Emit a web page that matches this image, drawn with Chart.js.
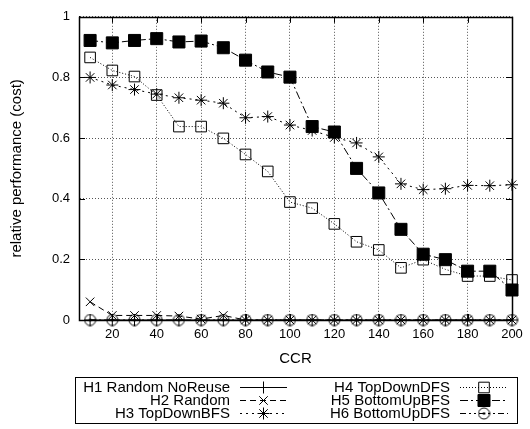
<!DOCTYPE html>
<html>
<head>
<meta charset="utf-8">
<script src="https://cdn.jsdelivr.net/npm/chart.js@4.4.1/dist/chart.umd.min.js"></script>
<style>
  html, body { margin: 0; padding: 0; background: #fff; }
</style>
</head>
<body>
<canvas id="chart" width="530" height="429"></canvas>
<script>
// === Dados ===
const ccr = [10, 20, 30, 40, 50, 60, 70, 80, 90, 100, 110, 120, 130, 140, 150, 160, 170, 180, 190, 200];
const xTicks = [20, 40, 60, 80, 100, 120, 140, 160, 180, 200];
const yTicks = [0, 0.2, 0.4, 0.6, 0.8, 1];
const names = ['H1 Random NoReuse', 'H2 Random', 'H3 TopDownBFS', 'H4 TopDownDFS', 'H5 BottomUpBFS', 'H6 BottomUpDFS'];

const h1 = [0, 0, 0, 0, 0, 0, 0, 0, 0, 0, 0, 0, 0, 0, 0, 0, 0, 0, 0, 0];
const h2 = [0.06, 0.015, 0.015, 0.015, 0.013, 0.003, 0.015, 0, 0, 0, 0, 0, 0, 0, 0, 0, 0, 0, 0, 0];
const h3 = [0.80, 0.775, 0.76, 0.745, 0.733, 0.725, 0.715, 0.667, 0.671, 0.643, 0.625, 0.602, 0.584, 0.538, 0.449, 0.430, 0.433, 0.444, 0.443, 0.446];
const h4 = [0.866, 0.823, 0.803, 0.742, 0.638, 0.638, 0.599, 0.546, 0.490, 0.389, 0.369, 0.317, 0.258, 0.231, 0.172, 0.199, 0.167, 0.145, 0.145, 0.132];
const h5 = [0.922, 0.914, 0.922, 0.928, 0.917, 0.920, 0.898, 0.857, 0.818, 0.801, 0.638, 0.620, 0.500, 0.419, 0.299, 0.217, 0.199, 0.161, 0.161, 0.099];
const h6 = [0, 0, 0, 0, 0, 0, 0, 0, 0, 0, 0, 0, 0, 0, 0, 0, 0, 0, 0, 0];

const FONT = "'Liberation Sans', Arial, Helvetica, sans-serif";

// === Marcador círculo com ponto (H6) ===
function circleDot() {
  const c = document.createElement('canvas');
  c.width = 13; c.height = 13;
  const g = c.getContext('2d');
  g.strokeStyle = '#000';
  g.lineWidth = 1;
  g.beginPath(); g.arc(6.5, 6.5, 5.5, 0, Math.PI * 2); g.stroke();
  g.fillStyle = '#000';
  g.beginPath(); g.arc(6.5, 6.5, 1.3, 0, Math.PI * 2); g.fill();
  return c;
}

// === Estilo de cada série ===
const styles = [
  { values: h1, point: 'cross',    radius: 6,   dash: [],              fill: 'rgba(0,0,0,0)' },
  { values: h2, point: 'crossRot', radius: 6,   dash: [6, 4],          fill: 'rgba(0,0,0,0)' },
  { values: h3, point: 'star',     radius: 6,   dash: [2, 4],          fill: 'rgba(0,0,0,0)' },
  { values: h4, point: 'rect',     radius: 7.5, dash: [1, 2],          fill: 'rgba(0,0,0,0)' },
  { values: h5, point: 'rect',     radius: 8.5, dash: [8, 3, 2, 3],    fill: '#000' },
  { values: h6, point: circleDot(), radius: 6,  dash: [6, 3, 2, 3, 2, 3], fill: 'rgba(0,0,0,0)' }
];

const datasets = styles.map((s, i) => ({
  label: names[i],
  data: ccr.map((x, k) => ({ x, y: s.values[k] })),
  borderColor: '#000',
  borderWidth: 1,
  borderDash: s.dash,
  pointStyle: s.point,
  pointRadius: s.radius,
  pointBorderWidth: 1,
  pointBorderColor: '#000',
  pointBackgroundColor: s.fill,
  tension: 0,
  clip: false,
  order: 6 - i
}));

// === Moldura, marcas internas e legenda ===
const framePlugin = {
  id: 'frame',
  afterDatasetsDraw(chart) {
    const { ctx, chartArea: a, scales } = chart;
    ctx.save();
    ctx.strokeStyle = '#000';
    ctx.lineWidth = 1;
    ctx.beginPath();
    yTicks.forEach(v => {
      const py = Math.round(scales.y.getPixelForValue(v)) + 0.5;
      ctx.moveTo(a.left, py); ctx.lineTo(a.left + 6, py);
      ctx.moveTo(a.right, py); ctx.lineTo(a.right - 6, py);
    });
    xTicks.forEach(v => {
      const px = Math.round(scales.x.getPixelForValue(v)) + 0.5;
      ctx.moveTo(px, a.bottom); ctx.lineTo(px, a.bottom - 6);
      ctx.moveTo(px, a.top); ctx.lineTo(px, a.top + 6);
    });
    ctx.stroke();
    ctx.lineWidth = 1.5;
    ctx.strokeRect(Math.round(a.left) + 0.5, Math.round(a.top) + 0.5,
      Math.round(a.right - a.left), Math.round(a.bottom - a.top));
    ctx.restore();
  },
  afterDraw(chart) {
    const { ctx } = chart;
    const textRight = [230, 450];
    const sampleX = [[240, 287], [460, 508]];
    const rowY = [387, 400, 413];
    ctx.save();
    ctx.strokeStyle = '#000';
    ctx.lineWidth = 1;
    ctx.strokeRect(75.5, 377.5, 442, 46);
    ctx.font = `15px ${FONT}`;
    ctx.textAlign = 'right';
    ctx.textBaseline = 'middle';
    styles.forEach((s, i) => {
      const col = Math.floor(i / 3), row = i % 3;
      const y = rowY[row];
      ctx.fillStyle = '#000';
      ctx.fillText(names[i], textRight[col], y + 0.5);
      ctx.setLineDash(s.dash);
      ctx.beginPath();
      ctx.moveTo(sampleX[col][0], y + 0.5);
      ctx.lineTo(sampleX[col][1], y + 0.5);
      ctx.stroke();
      ctx.setLineDash([]);
      const cx = (sampleX[col][0] + sampleX[col][1]) / 2;
      ctx.fillStyle = s.fill;
      Chart.helpers.drawPoint(ctx, { pointStyle: s.point, radius: s.radius, rotation: 0, borderWidth: 1 }, cx, y + 0.5);
    });
    ctx.restore();
  }
};

new Chart(document.getElementById('chart'), {
  type: 'line',
  data: { datasets },
  options: {
    responsive: false,
    animation: false,
    devicePixelRatio: 1,
    layout: { padding: { top: 10, right: 18, left: 0, bottom: 59 } },
    plugins: { legend: { display: false }, tooltip: { enabled: false } },
    scales: {
      x: {
        type: 'linear',
        min: 5,
        max: 200,
        afterBuildTicks: s => { s.ticks = xTicks.map(v => ({ value: v })); },
        afterFit: s => { s.height = 50; },
        ticks: { font: { family: FONT, size: 13 }, color: '#000', padding: 7, maxRotation: 0, autoSkip: false },
        grid: { color: '#555', lineWidth: 1, drawTicks: false },
        border: { display: true, color: '#000', width: 1, dash: [1, 2] },
        title: { display: true, text: 'CCR', font: { family: FONT, size: 15 }, color: '#000', padding: { top: 0, bottom: 2 } }
      },
      y: {
        min: 0,
        max: 1,
        afterBuildTicks: s => { s.ticks = yTicks.map(v => ({ value: v })); },
        afterFit: s => { s.width = 79; },
        ticks: {
          font: { family: FONT, size: 13 }, color: '#000', padding: 9,
          callback: v => String(+v.toFixed(1))
        },
        grid: { color: '#555', lineWidth: 1, drawTicks: false },
        border: { display: true, color: '#000', width: 1, dash: [1, 2] },
        title: { display: true, text: 'relative performance (cost)', font: { family: FONT, size: 15 }, color: '#000', padding: { top: 8, bottom: 0 } }
      }
    }
  },
  plugins: [framePlugin]
});
</script>
</body>
</html>
